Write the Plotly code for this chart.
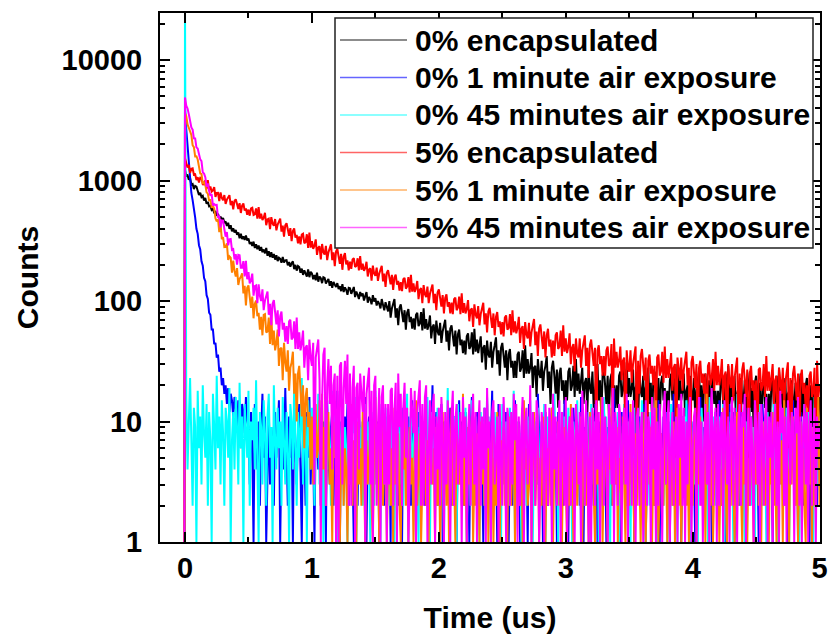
import numpy as np
import plotly.graph_objects as go

# Time axis: one pre-trigger channel, then 0.01 us TCSPC channels from 0 to 5 us
pre_trigger_us = -0.005
channel_us = 0.01
n_channels = 501
time_us = np.concatenate([[pre_trigger_us], np.round(np.arange(n_channels) * channel_us, 3)])

# Photon counts per channel (first entry = pre-trigger baseline)
counts_0_encap = [1,
    1225, 1098, 1112, 1020, 1050, 930, 941, 852, 905, 893,
    801, 760, 792, 731, 748, 683, 719, 642, 668, 611,
    618, 571, 585, 536, 559, 512, 530, 488, 503, 472,
    489, 445, 458, 421, 447, 398, 426, 380, 402, 371,
    390, 356, 372, 333, 362, 328, 345, 322, 350, 318,
    331, 298, 309, 287, 312, 276, 296, 270, 289, 262,
    281, 255, 268, 249, 276, 238, 259, 232, 254, 229,
    246, 221, 240, 215, 229, 224, 208, 232, 209, 218,
    219, 198, 211, 193, 206, 214, 184, 200, 179, 196,
    192, 172, 186, 165, 180, 171, 160, 183, 158, 175,
    170, 152, 165, 149, 172, 145, 160, 155, 141, 158,
    156, 140, 148, 153, 134, 146, 129, 144, 137, 131,
    141, 126, 133, 121, 138, 119, 130, 124, 113, 129,
    128, 115, 122, 131, 108, 120, 113, 104, 119, 110,
    116, 101, 110, 119, 97, 108, 103, 94, 112, 99,
    106, 92, 100, 95, 87, 104, 93, 84, 98, 90,
    82, 100, 73, 87, 94, 104, 73, 87, 63, 88,
    94, 79, 67, 84, 58, 80, 86, 67, 74, 59,
    72, 58, 77, 80, 62, 65, 81, 57, 87, 59,
    71, 58, 63, 76, 49, 61, 64, 44, 69, 56,
    52, 66, 45, 56, 62, 70, 46, 57, 39, 59,
    63, 52, 42, 57, 36, 53, 58, 43, 48, 37,
    47, 36, 51, 54, 40, 42, 55, 36, 59, 38,
    48, 37, 42, 51, 31, 41, 43, 27, 47, 36,
    34, 46, 28, 38, 43, 50, 30, 39, 24, 41,
    45, 35, 28, 39, 22, 36, 40, 28, 32, 23,
    32, 23, 36, 38, 26, 28, 39, 23, 43, 25,
    33, 25, 28, 37, 19, 28, 29, 16, 33, 25,
    23, 32, 18, 26, 29, 35, 19, 26, 14, 28,
    32, 24, 17, 27, 13, 25, 28, 18, 22, 14,
    22, 15, 26, 28, 18, 20, 29, 16, 33, 18,
    25, 17, 21, 28, 14, 21, 23, 12, 27, 19,
    17, 26, 13, 20, 24, 30, 15, 22, 11, 24,
    27, 20, 14, 24, 11, 22, 25, 16, 20, 13,
    20, 13, 24, 26, 16, 18, 27, 14, 31, 16,
    23, 16, 19, 27, 12, 19, 21, 10, 25, 18,
    16, 24, 12, 19, 22, 28, 14, 21, 10, 23,
    26, 19, 13, 23, 10, 21, 24, 15, 19, 12,
    18, 12, 22, 25, 15, 17, 26, 13, 30, 15,
    22, 15, 18, 25, 11, 18, 20, 10, 24, 17,
    15, 23, 11, 18, 21, 27, 13, 20, 10, 22,
    25, 18, 12, 22, 9, 20, 23, 14, 18, 11,
    18, 11, 21, 24, 14, 16, 25, 12, 29, 14,
    21, 14, 17, 24, 11, 17, 19, 9, 23, 16,
    14, 22, 10, 17, 20, 26, 12, 19, 9, 21,
    24, 17, 11, 21, 9, 18, 22, 13, 17, 10,
    17, 10, 20, 23, 13, 15, 24, 11, 28, 13,
    20, 13, 17, 23, 10, 17, 18, 9, 22, 15,
    13, 21, 10, 16, 19, 25, 11, 18, 8, 20,
    23, 16, 10, 20, 8, 17, 21, 12, 16, 10,
    16]

counts_0_1min = [1,
    4000, 2650, 1960, 1340, 1080, 790, 690, 545, 495, 398,
    362, 291, 268, 214, 197, 156, 146, 112, 104, 80,
    77, 58, 58, 44, 45, 34, 36, 26, 28, 20,
    23, 17, 20, 14, 19, 12, 17, 15, 11, 16,
    13, 9, 15, 11, 6, 14, 12, 8, 16, 10,
    9, 3, 12, 6, 1, 14, 7, 4, 10, 2, 8, 17, 5, 11, 1, 6, 13, 3, 9, 7,
    2, 12, 5, 8, 15, 1, 6, 10, 4, 19, 7, 2, 11, 5, 9, 1, 13, 6, 3, 8,
    14, 4, 1, 10, 7, 2, 12, 5, 16, 3, 9, 6, 1, 11, 8, 4, 13, 2, 7, 10,
    5, 1, 15, 6, 3, 9, 12, 2, 8, 4, 18, 7, 1, 10, 5, 3, 11, 6, 14, 2,
    8, 13, 4, 1, 9, 6, 2, 12, 7, 3, 10, 5, 16, 1, 8, 11, 4, 6, 2, 13,
    7, 3, 10, 1, 5, 14, 8, 2, 11, 6, 4, 9, 1, 17, 3, 7, 12, 5, 2, 10,
    6, 1, 13, 4, 8, 3, 11, 7, 2, 15, 5, 9, 1, 6, 12, 4, 3, 10, 8, 2,
    11, 5, 1, 9, 7, 20, 3, 6, 12, 2, 8, 4, 14, 1, 10, 6, 3, 9, 5, 13,
    2, 8, 11, 4, 1, 7, 15, 3, 10, 6, 2, 12, 5, 9, 1, 8, 16, 4, 7, 3,
    12, 6, 2, 10, 5, 1, 13, 8, 4, 11, 3, 7, 18, 2, 9, 6, 1, 14, 5, 10,
    4, 9, 3, 12, 7, 1, 6, 11, 2, 8, 15, 5, 3, 10, 1, 7, 13, 4, 9, 6,
    1, 14, 5, 8, 2, 11, 6, 3, 17, 7, 4, 10, 1, 9, 12, 5, 2, 8, 6, 13,
    3, 7, 10, 1, 12, 4, 8, 6, 2, 15, 9, 5, 1, 11, 7, 3, 13, 6, 4, 10,
    8, 2, 16, 5, 1, 9, 7, 12, 3, 6, 11, 4, 2, 14, 8, 1, 10, 5, 7, 3,
    13, 6, 1, 9, 4, 11, 2, 8, 19, 5, 3, 10, 7, 1, 12, 6, 4, 9, 2, 15,
    5, 10, 3, 7, 1, 13, 8, 4, 11, 2, 6, 14, 9, 1, 5, 12, 3, 7, 10, 4,
    2, 9, 6, 15, 1, 8, 4, 11, 7, 3, 12, 5, 1, 10, 6, 17, 2, 8, 4, 13,
    7, 1, 11, 5, 9, 3, 14, 6, 2, 10, 8, 4, 1, 12, 7, 5, 16, 3, 9, 6,
    10, 4, 2, 13, 6, 1, 9, 7, 12, 3, 5, 15, 8, 2, 11, 4, 1, 10, 6, 14,
    3, 8, 12, 1, 7, 5, 10, 2, 18, 6, 4, 9, 1, 13, 7, 3, 11, 5, 8, 2,
    12, 6, 1, 10, 4, 14, 7, 3, 9, 5, 2, 11, 8, 1, 16, 6, 4, 12, 3, 7,
    5, 11, 2, 8, 13, 1, 6, 9, 4, 15, 7, 3, 10, 1, 5, 12, 8, 2, 14, 6,
    4, 9, 1, 11, 7, 3, 13, 5, 2, 10, 8]

counts_0_45min = [1,
    30000,
    16, 4, 10, 23, 7, 2, 13, 9, 1, 18, 6, 11, 3, 20, 8, 5, 14, 2, 12, 7,
    1, 17, 9, 4, 24, 6, 11, 3, 15, 8, 2, 13, 10, 5, 19, 1, 7, 12, 4, 16,
    9, 3, 21, 6, 11, 1, 14, 8, 5, 18, 2, 10, 7, 13, 4, 22, 6, 1, 12, 9,
    3, 15, 8, 2, 11, 17, 5, 9, 1, 20, 7, 4, 13, 6, 10, 2, 16, 8, 3, 12,
    6, 1, 14, 10, 4, 19, 7, 2, 12, 5, 9, 23, 3, 8, 11, 1, 15, 6, 4, 13,
    8, 2, 11, 5, 17, 3, 9, 14, 1, 7, 12, 4, 10, 6, 2, 18, 5, 13, 8, 1,
    10, 4, 7, 15, 2, 9, 6, 1, 12, 5, 3, 11, 8, 16, 1, 6, 13, 4, 9, 2,
    7, 14, 3, 10, 5, 1, 12, 8, 2, 18, 6, 4, 11, 1, 9, 7, 3, 13, 5, 10,
    2, 8, 15, 4, 1, 11, 6, 9, 3, 13, 7, 2, 10, 5, 17, 1, 8, 12, 4, 6,
    11, 3, 9, 1, 14, 6, 2, 10, 7, 4, 16, 5, 1, 12, 8, 3, 9, 6, 13, 2,
    5, 12, 7, 1, 10, 4, 19, 3, 8, 6, 2, 11, 9, 1, 14, 5, 7, 3, 10, 4,
    13, 1, 6, 9, 2, 15, 8, 4, 11, 3, 7, 1, 12, 6, 10, 2, 5, 16, 8, 3,
    1, 9, 4, 12, 7, 2, 11, 5, 1, 14, 6, 3, 10, 8, 2, 13, 4, 7, 18, 1,
    6, 10, 3, 8, 1, 12, 5, 9, 2, 11, 4, 15, 7, 1, 6, 10, 3, 13, 5, 2,
    9, 4, 14, 1, 7, 11, 3, 6, 10, 2, 17, 5, 8, 1, 12, 4, 9, 3, 11, 6,
    2, 13, 5, 8, 1, 10, 7, 3, 15, 4, 9, 1, 11, 6, 2, 12, 8, 5, 1, 14,
    7, 3, 10, 6, 12, 1, 4, 9, 2, 16, 5, 11, 3, 8, 1, 13, 6, 2, 10, 4,
    12, 1, 8, 5, 3, 14, 7, 2, 10, 6, 1, 9, 4, 13, 2, 7, 11, 5, 3, 15,
    4, 8, 1, 11, 6, 2, 12, 9, 3, 7, 18, 1, 5, 10, 4, 6, 2, 13, 8, 1,
    10, 5, 14, 2, 7, 3, 9, 1, 12, 6, 4, 11, 8, 2, 15, 3, 7, 1, 10, 5,
    3, 12, 6, 1, 9, 4, 13, 7, 2, 10, 5, 1, 16, 8, 3, 11, 6, 2, 9, 4,
    11, 2, 7, 14, 1, 8, 5, 10, 3, 12, 6, 1, 9, 4, 17, 2, 8, 6, 11, 3,
    1, 10, 4, 8, 13, 2, 6, 9, 1, 11, 7, 3, 14, 5, 2, 10, 8, 1, 12, 6,
    5, 9, 2, 15, 4, 7, 1, 11, 6, 3, 10, 8, 2, 13, 5, 1, 9, 12, 4, 7,
    2, 11, 6, 1, 10, 3, 8, 14, 5, 2, 12, 7, 4, 9, 1, 16, 6, 3, 10, 5]

counts_5_encap = [1,
    1538, 1400, 1284, 1354, 1160, 1257, 1266, 1121, 1130, 1012,
    1070, 967, 1059, 1054, 931, 930, 1008, 852, 1012, 839,
    894, 811, 830, 883, 732, 790, 792, 675, 799, 718,
    689, 759, 642, 696, 719, 758, 626, 680, 579, 679,
    700, 633, 582, 650, 539, 622, 646, 564, 588, 521,
    575, 512, 589, 596, 519, 526, 589, 484, 603, 484,
    532, 472, 493, 541, 427, 476, 483, 396, 498, 439,
    422, 480, 387, 432, 452, 484, 378, 424, 343, 426,
    443, 390, 349, 404, 315, 382, 401, 336, 355, 302,
    345, 296, 357, 363, 303, 309, 359, 277, 371, 278,
    315, 272, 288, 325, 242, 278, 285, 222, 298, 255,
    243, 288, 219, 254, 271, 296, 219, 254, 195, 258,
    272, 234, 204, 247, 182, 234, 250, 202, 218, 180,
    213, 185, 222, 227, 192, 196, 227, 180, 236, 182,
    205, 178, 188, 212, 160, 183, 187, 148, 197, 170,
    162, 190, 147, 169, 180, 196, 146, 169, 131, 172,
    181, 157, 138, 165, 124, 157, 166, 137, 147, 122,
    144, 121, 152, 156, 127, 132, 158, 118, 165, 120,
    140, 119, 128, 147, 104, 124, 128, 96, 136, 114,
    108, 132, 96, 115, 123, 137, 96, 115, 84, 118,
    125, 105, 90, 112, 79, 106, 114, 90, 98, 79,
    97, 78, 104, 107, 84, 88, 109, 78, 116, 80,
    96, 79, 86, 102, 68, 84, 87, 61, 94, 77,
    72, 91, 63, 78, 85, 97, 64, 79, 55, 82,
    88, 72, 60, 79, 52, 74, 81, 61, 68, 53,
    67, 51, 73, 76, 58, 60, 78, 52, 84, 55,
    68, 54, 60, 74, 45, 59, 62, 40, 67, 53,
    49, 66, 42, 55, 61, 71, 43, 56, 35, 59,
    64, 51, 40, 56, 34, 52, 59, 42, 48, 34,
    47, 35, 52, 55, 40, 42, 57, 35, 63, 38,
    49, 37, 42, 54, 30, 41, 44, 26, 49, 37,
    34, 49, 28, 39, 45, 52, 29, 41, 23, 43,
    48, 37, 29, 41, 6, 39, 43, 30, 35, 24,
    35, 24, 39, 42, 29, 30, 44, 9, 49, 28,
    38, 28, 32, 42, 22, 32, 34, 4, 39, 28,
    26, 39, 21, 30, 35, 42, 7, 32, 17, 35,
    40, 30, 22, 34, 3, 32, 36, 25, 29, 20,
    29, 8, 34, 36, 24, 26, 38, 21, 42, 23,
    33, 23, 28, 37, 18, 28, 30, 5, 34, 25,
    22, 34, 18, 27, 31, 38, 20, 28, 2, 31,
    35, 26, 19, 30, 6, 28, 32, 21, 25, 17,
    25, 4, 29, 31, 20, 23, 33, 18, 38, 20,
    29, 20, 24, 33, 15, 24, 26, 3, 30, 22,
    19, 30, 15, 23, 28, 34, 7, 25, 12, 27,
    31, 23, 16, 27, 2, 25, 29, 18, 22, 14,
    22, 5, 27, 28, 18, 20, 30, 16, 35, 18,
    26, 18, 22, 30, 14, 22, 24, 3, 28, 20,
    17, 28, 13, 21, 25, 31, 6, 23, 11, 25,
    29, 21, 15, 25, 4, 23, 27, 17, 21, 13,
    20, 12, 24, 26, 16, 18, 28, 2, 32, 16,
    20]

counts_5_1min = [1,
    3640, 3440, 2930, 2750, 2555, 2400, 1970, 1895, 1590, 1595,
    1500, 1300, 1145, 1135, 940, 966, 925, 800, 780, 680,
    700, 595, 622, 585, 485, 459, 477, 374, 438, 327,
    340, 281, 282, 301, 220, 235, 229, 172, 217, 178,
    160, 188, 136, 153, 159, 170, 116, 134, 92, 129,
    135, 108, 88, 109, 72, 95, 101, 75, 80, 58,
    74, 52, 77, 78, 55, 56, 73, 44, 77, 43,
    57, 39, 45, 58, 29, 40, 41, 22, 45, 31,
    26, 39, 18, 28, 31, 38, 17, 25, 10, 25,
    29, 18, 11, 20, 6, 16, 19, 9, 12, 4,
    11, 3, 13, 14, 5, 6, 15, 2, 17, 4,
    9, 2, 8, 12, 3, 6, 1, 10, 5, 7,
    3, 8, 1, 5, 11, 2, 6, 4, 1, 9, 3, 14, 2, 7, 5, 1, 10, 3, 6, 2,
    12, 4, 1, 7, 3, 5, 9, 2, 1, 6, 16, 3, 8, 1, 4, 11, 2, 5, 7, 1,
    4, 10, 2, 6, 1, 13, 3, 5, 8, 2, 1, 7, 4, 12, 2, 6, 1, 9, 3, 5,
    1, 6, 15, 2, 4, 8, 1, 3, 10, 5, 2, 7, 1, 11, 4, 3, 6, 1, 9, 2,
    7, 1, 4, 12, 3, 5, 2, 8, 1, 6, 13, 2, 4, 1, 9, 5, 3, 7, 2, 17,
    2, 5, 1, 9, 3, 6, 11, 1, 4, 2, 8, 5, 1, 10, 3, 7, 2, 4, 14, 1,
    6, 3, 8, 1, 5, 2, 12, 4, 1, 7, 3, 9, 2, 6, 1, 11, 4, 2, 5, 8,
    1, 10, 3, 5, 2, 7, 1, 15, 4, 6, 2, 3, 9, 1, 5, 12, 2, 4, 8, 1,
    5, 2, 11, 4, 1, 6, 3, 8, 2, 13, 1, 5, 7, 3, 10, 2, 4, 1, 6, 9,
    3, 1, 7, 2, 14, 5, 1, 4, 9, 2, 6, 3, 11, 1, 8, 4, 2, 5, 1, 12,
    4, 7, 2, 1, 10, 3, 6, 2, 16, 1, 5, 8, 3, 1, 7, 4, 13, 2, 6, 3,
    9, 1, 5, 3, 2, 11, 4, 1, 7, 6, 2, 14, 3, 5, 1, 8, 2, 10, 4, 1,
    6, 2, 12, 1, 4, 7, 3, 9, 1, 5, 2, 15, 6, 1, 3, 8, 4, 2, 11, 5,
    1, 8, 3, 6, 2, 10, 1, 4, 13, 2, 7, 1, 5, 9, 3, 2, 6, 1, 12, 4,
    2, 5, 9, 1, 7, 3, 11, 2, 4, 6, 1, 17, 3, 5, 2, 8, 1, 4, 10, 3,
    7, 1, 4, 2, 13, 5, 3, 1, 8, 6, 2, 10, 4, 1, 5, 12, 2, 7, 3, 1,
    11, 3, 6, 1, 5, 2, 9, 4, 1, 14, 3, 7, 2, 5, 1, 10, 6, 2, 4, 8,
    1, 6, 3, 12, 2, 4, 1, 9, 5, 3, 7, 1, 15, 2, 6, 4, 1, 8, 3, 11,
    5, 2, 8, 1, 4, 10, 3, 6, 2, 1, 13, 5, 3, 7, 1, 9, 2, 4, 6, 16,
    2]

counts_5_45min = [1,
    4900, 4200, 3970, 3570, 3040, 2770, 2650, 2245, 2240, 1890,
    1847, 1596, 1500, 1450, 1172, 1145, 1068, 892, 950, 820,
    750, 772, 623, 638, 627, 630, 492, 510, 410, 467,
    465, 396, 343, 375, 290, 326, 328, 266, 270, 222,
    245, 201, 242, 240, 189, 189, 215, 160, 216, 152,
    174, 140, 149, 169, 111, 133, 135, 96, 138, 110,
    100, 125, 84, 101, 109, 120, 77, 95, 63, 95,
    102, 80, 64, 84, 51, 75, 82, 58, 66, 46,
    62, 44, 68, 70, 48, 50, 68, 40, 73, 40,
    55, 39, 45, 57, 28, 41, 43, 22, 48, 34,
    29, 45, 3, 34, 39, 48, 22, 1, 15, 36,
    41, 2, 20, 33, 14, 29, 4, 20, 25, 1,
    24, 1, 29, 31, 3, 19, 32, 14, 36, 2,
    25, 2, 19, 29, 1, 19, 21, 4, 25, 16,
    12, 24, 1, 17, 21, 28, 3, 18, 1, 20,
    24, 2, 9, 19, 1, 16, 20, 3, 14, 1,
    14, 3, 18, 19, 2, 12, 21, 1, 25, 9,
    17, 2, 13, 21, 5, 13, 1, 3, 19, 11,
    8, 18, 1, 12, 16, 22, 2, 14, 2, 16,
    20, 1, 6, 15, 3, 13, 17, 1, 11, 4,
    13, 2, 16, 9, 1, 12, 3, 15, 8, 1, 11, 18, 2, 10, 14, 3, 6, 12, 1, 16,
    5, 11, 1, 8, 14, 2, 10, 17, 3, 12, 1, 9, 15, 2, 11, 4, 13, 1, 19, 6,
    10, 1, 12, 15, 3, 7, 11, 1, 14, 5, 2, 16, 8, 1, 13, 10, 2, 12, 3, 17,
    7, 14, 1, 11, 2, 9, 16, 1, 10, 13, 3, 6, 20, 1, 12, 8, 2, 15, 11, 1,
    3, 12, 9, 1, 14, 6, 2, 13, 10, 1, 17, 4, 11, 2, 9, 15, 1, 12, 7, 2,
    16, 1, 8, 11, 2, 13, 7, 1, 14, 9, 3, 12, 1, 18, 10, 2, 15, 5, 1, 11,
    1, 13, 10, 2, 15, 4, 12, 1, 8, 16, 2, 11, 7, 1, 14, 9, 3, 19, 1, 12,
    8, 2, 14, 11, 1, 9, 13, 3, 17, 1, 10, 12, 2, 15, 6, 1, 11, 13, 2, 8,
    12, 1, 6, 15, 2, 11, 9, 1, 16, 4, 13, 1, 10, 2, 14, 7, 1, 12, 18, 3,
    10, 15, 1, 7, 12, 2, 8, 11, 1, 14, 5, 17, 2, 13, 1, 10, 3, 12, 16, 1,
    6, 11, 13, 1, 9, 16, 2, 10, 1, 7, 14, 3, 12, 1, 11, 19, 2, 9, 13, 1,
    14, 2, 10, 12, 1, 15, 8, 3, 11, 1, 9, 16, 2, 13, 7, 1, 10, 14, 2, 12,
    9, 17, 1, 8, 13, 2, 11, 6, 1, 15, 10, 3, 12, 1, 14, 9, 2, 11, 16, 1,
    11, 5, 12, 1, 9, 14, 2, 10, 1, 18, 8, 13, 2, 11, 1, 15, 9, 3, 12, 10,
    1, 13, 8, 16, 2, 11, 1, 9, 14, 3, 12, 1, 10, 15, 2, 8, 13, 1, 11, 6,
    9]

series_names = [
    "0% encapsulated",
    "0% 1 minute air exposure",
    "0% 45 minutes air exposure",
    "5% encapsulated",
    "5% 1 minute air exposure",
    "5% 45 minutes air exposure",
]
series_counts = [counts_0_encap, counts_0_1min, counts_0_45min,
                 counts_5_encap, counts_5_1min, counts_5_45min]
series_colors = ["#000000", "#0000FF", "#00FFFF", "#FF0000", "#FF8000", "#FF00FF"]

x_ticks = [0, 1, 2, 3, 4, 5]
y_ticks = [1, 10, 100, 1000, 10000]
y_ticktext = ["1", "10", "100", "1000", "10000"]

for c in series_counts:
    assert len(c) == len(time_us), len(c)

FONT = "Liberation Sans, Arial, sans-serif"
W, H = 828, 634
L_PX, R_PX, T_PX, B_PX = 160, 820, 13, 542


def px_x(px):
    return (px - L_PX) / (R_PX - L_PX)


def px_y(py):
    return (B_PX - py) / (B_PX - T_PX)


fig = go.Figure()
for name, counts, color in zip(series_names, series_counts, series_colors):
    fig.add_trace(go.Scatter(
        x=time_us, y=counts, mode="lines", name=name,
        line=dict(color=color, width=2), showlegend=False,
    ))

axis_common = dict(
    showline=True, linewidth=2, linecolor="black", mirror="ticks",
    ticks="inside", ticklen=10, tickwidth=2, tickcolor="black",
    showgrid=False, zeroline=False, automargin=False,
    tickfont=dict(family=FONT, size=29, color="black", weight="bold"),
)

fig.update_xaxes(
    range=[-0.197, 5.003], tickvals=x_ticks, ticklabelstandoff=-1,
    minor=dict(ticks="inside", ticklen=5, tickwidth=2, tickcolor="black", dtick=0.5),
    title=dict(text="Time (us)", standoff=29,
               font=dict(family=FONT, size=30, color="black", weight="bold")),
    **axis_common,
)
fig.update_yaxes(
    type="log", range=[0, np.log10(24660)], tickvals=y_ticks, ticktext=y_ticktext,
    ticklabelstandoff=10,
    minor=dict(ticks="inside", ticklen=5, tickwidth=2, tickcolor="black", dtick="D1"),
    title=dict(text="Counts", standoff=14,
               font=dict(family=FONT, size=30, color="black", weight="bold")),
    **axis_common,
)

# Legend drawn as a framed key inside the plot area
box = dict(x0=335, x1=813, y0=18, y1=248)
fig.add_shape(type="rect", xref="paper", yref="paper",
              x0=px_x(box["x0"]), x1=px_x(box["x1"]),
              y0=px_y(box["y1"]), y1=px_y(box["y0"]),
              line=dict(color="#202020", width=1.5), fillcolor="white", layer="above")
row0, row_step = 40, 37.5
for i, (name, color) in enumerate(zip(series_names, series_colors)):
    yc = row0 + i * row_step
    fig.add_shape(type="line", xref="paper", yref="paper",
                  x0=px_x(340), x1=px_x(407), y0=px_y(yc), y1=px_y(yc),
                  line=dict(color=color, width=1.5), opacity=0.6, layer="above")
    fig.add_annotation(xref="paper", yref="paper", x=px_x(413), y=px_y(yc),
                       xanchor="left", yanchor="middle", showarrow=False, text=name,
                       font=dict(family=FONT, size=30, color="black", weight="bold"))

fig.update_layout(
    width=W, height=H,
    margin=dict(l=L_PX, r=W - R_PX, t=T_PX, b=H - B_PX, pad=0),
    paper_bgcolor="white", plot_bgcolor="white",
    showlegend=False,
)

fig.write_html("out.html")
